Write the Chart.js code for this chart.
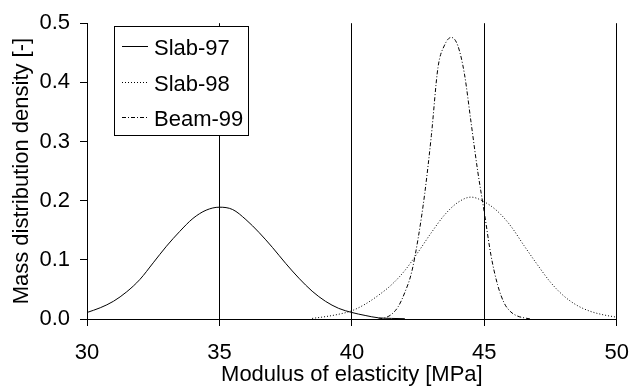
<!DOCTYPE html>
<html>
<head>
<meta charset="utf-8">
<script src="https://cdn.jsdelivr.net/npm/chart.js@4.4.0/dist/chart.umd.min.js"></script>
<style>
  body { margin: 0; background: #fff; }
  #wrap { width: 643px; height: 391px; }
</style>
</head>
<body>
<div id="wrap"><canvas id="modulus" width="643" height="391"></canvas></div>
<script>
// values
var slab97X = [30, 30.5, 31, 31.5, 32, 32.5, 33, 33.5, 34, 34.5, 35, 35.5, 36, 36.5, 37, 37.5, 38, 38.5, 39, 39.5, 40, 40.5, 41, 41.5, 42];
var slab97Y = [0.011, 0.019, 0.030, 0.046, 0.067, 0.095, 0.123, 0.148, 0.170, 0.184, 0.189, 0.185, 0.168, 0.146, 0.121, 0.094, 0.069, 0.047, 0.030, 0.018, 0.011, 0.006, 0.002, 0.001, 0.0005];

var slab98X = [38.5, 39, 39.5, 40, 40.5, 41, 41.5, 42, 42.5, 43, 43.5, 44, 44.5, 45, 45.5, 46, 46.5, 47, 47.5, 48, 48.5, 49, 49.5, 50];
var slab98Y = [0.001, 0.004, 0.008, 0.014, 0.025, 0.040, 0.058, 0.082, 0.113, 0.146, 0.176, 0.197, 0.206, 0.198, 0.182, 0.157, 0.124, 0.092, 0.062, 0.039, 0.023, 0.013, 0.007, 0.003];

var beam99X = [41, 41.25, 41.5, 41.75, 42, 42.25, 42.5, 42.75, 43, 43.25, 43.5, 43.75, 44, 44.25, 44.5, 44.75, 45, 45.25, 45.5, 45.75, 46, 46.25, 46.5, 46.75];
var beam99Y = [0.000, 0.002, 0.008, 0.021, 0.045, 0.078, 0.136, 0.212, 0.310, 0.425, 0.463, 0.476, 0.462, 0.414, 0.332, 0.250, 0.180, 0.108, 0.058, 0.027, 0.012, 0.005, 0.002, 0.000];

var seriesNames = ['Slab-97', 'Slab-98', 'Beam-99'];
var xTicks = [30, 35, 40, 45, 50];
var yTicks = [0.0, 0.1, 0.2, 0.3, 0.4, 0.5];

function pts(xs, ys) {
  return xs.map(function (x, i) { return { x: x, y: ys[i] }; });
}

Chart.defaults.font.family = '"Liberation Sans", Arial, sans-serif';
Chart.defaults.font.size = 22;
Chart.defaults.color = '#000';

// legend box drawn inside the plot, like the original
var legendBox = {
  id: 'legendBox',
  afterDraw: function (chart) {
    var ctx = chart.ctx;
    ctx.save();
    ctx.fillStyle = '#fff';
    ctx.fillRect(114.5, 26.5, 134, 109);
    ctx.strokeStyle = '#000';
    ctx.lineWidth = 1;
    ctx.strokeRect(114.5, 26.5, 134, 109);
    ctx.font = '22px "Liberation Sans", Arial, sans-serif';
    ctx.textBaseline = 'alphabetic';
    ctx.textAlign = 'left';
    chart.data.datasets.forEach(function (ds, i) {
      var y = Math.round(46 + i * 35.5) + 0.5;
      ctx.beginPath();
      ctx.setLineDash(ds.borderDash || []);
      ctx.strokeStyle = '#000';
      ctx.moveTo(122, y);
      ctx.lineTo(148, y);
      ctx.stroke();
      ctx.setLineDash([]);
      ctx.fillStyle = '#000';
      ctx.fillText(ds.label, 154, y + 8);
    });
    ctx.restore();
  }
};

var chart = new Chart(document.getElementById('modulus').getContext('2d'), {
  type: 'scatter',
  data: {
    datasets: [{
      label: seriesNames[0],
      data: pts(slab97X, slab97Y),
      showLine: true,
      borderColor: '#000',
      borderWidth: 1,
      pointRadius: 0,
      cubicInterpolationMode: 'monotone'
    }, {
      label: seriesNames[1],
      data: pts(slab98X, slab98Y),
      showLine: true,
      borderColor: '#000',
      borderWidth: 1,
      borderDash: [1, 2],
      pointRadius: 0,
      cubicInterpolationMode: 'monotone'
    }, {
      label: seriesNames[2],
      data: pts(beam99X, beam99Y),
      showLine: true,
      borderColor: '#000',
      borderWidth: 1,
      borderDash: [4, 2, 1, 2],
      pointRadius: 0,
      cubicInterpolationMode: 'monotone'
    }]
  },
  options: {
    responsive: false,
    animation: false,
    devicePixelRatio: 1,
    layout: { padding: { left: 0, right: 26, top: 19, bottom: 0 } },
    plugins: {
      legend: { display: false },
      tooltip: { enabled: false }
    },
    scales: {
      x: {
        type: 'linear',
        min: 30,
        max: 50,
        afterBuildTicks: function (axis) { axis.ticks = xTicks.map(function (v) { return { value: v }; }); },
        afterFit: function (axis) { axis.height = 72; },
        ticks: { padding: 14, maxRotation: 0 },
        grid: { color: '#000', lineWidth: 1, tickLength: 7, drawOnChartArea: true },
        border: { display: true, color: '#000', width: 1 },
        title: { display: true, text: 'Modulus of elasticity [MPa]', padding: { top: 0, bottom: 3 }, font: { size: 22 } }
      },
      y: {
        min: 0,
        max: 0.5,
        afterBuildTicks: function (axis) { axis.ticks = yTicks.map(function (v) { return { value: v }; }); },
        afterFit: function (axis) { axis.width = 87; },
        ticks: { padding: 10, callback: function (v) { return v.toFixed(1); } },
        grid: { color: '#000', lineWidth: 1, tickLength: 7, drawOnChartArea: false },
        border: { display: true, color: '#000', width: 1 },
        title: { display: true, text: 'Mass distribution density [-]', padding: { top: 9, bottom: 0 }, font: { size: 22 } }
      }
    }
  },
  plugins: [legendBox]
});
</script>
</body>
</html>
